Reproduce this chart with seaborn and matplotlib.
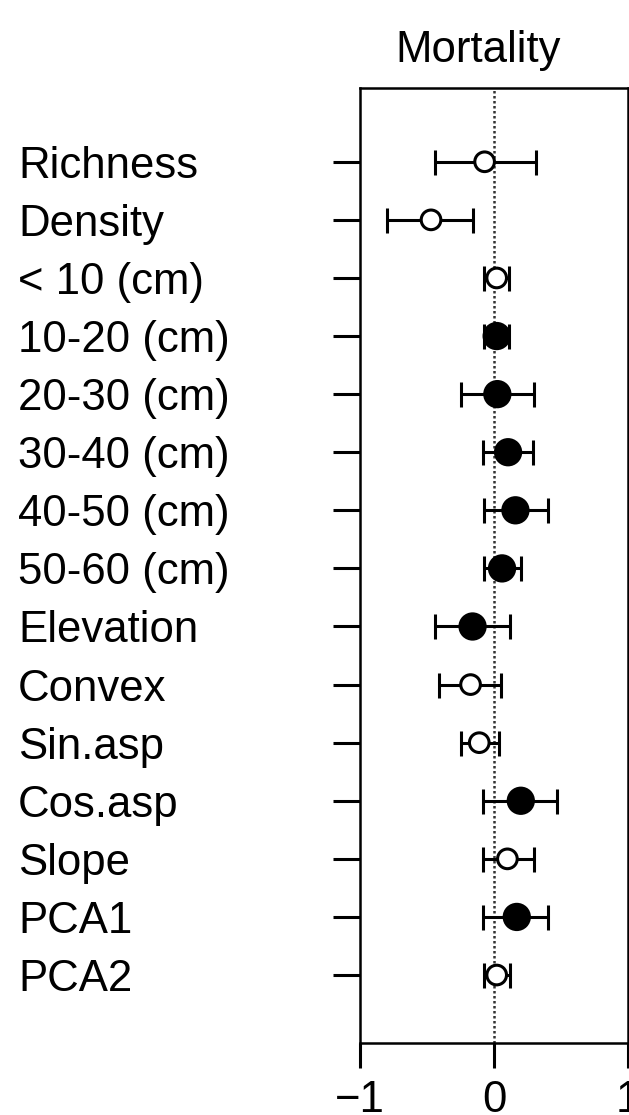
"""
Forest plot of standardised effects on mortality (point estimate + interval).
Open circles = non-significant, filled = significant.
"""

import numpy as np
import pandas as pd
import matplotlib
matplotlib.use("Agg")
import matplotlib.pyplot as plt
import seaborn as sns

# ---------------------------------------------------------------------------
# Data
# ---------------------------------------------------------------------------
LABELS = [
    "Richness", "Density",
    "< 10 (cm)", "10-20 (cm)", "20-30 (cm)", "30-40 (cm)", "40-50 (cm)", "50-60 (cm)",
    "Elevation", "Convex", "Sin.asp", "Cos.asp", "Slope", "PCA1", "PCA2",
]
ESTIMATE = [-0.07, -0.47, 0.02, 0.02, 0.025, 0.105, 0.16, 0.06,
            -0.16, -0.175, -0.11, 0.20, 0.10, 0.17, 0.02]
LOWER    = [-0.44, -0.80, -0.075, -0.075, -0.25, -0.08, -0.075, -0.075,
            -0.44, -0.41, -0.25, -0.08, -0.08, -0.08, -0.075]
UPPER    = [0.31, -0.155, 0.11, 0.11, 0.30, 0.29, 0.40, 0.20,
            0.12, 0.055, 0.037, 0.47, 0.30, 0.40, 0.12]
SIGNIF   = [False, False, False, True, True, True, True, True,
            True, False, False, True, False, True, False]
X_TICKS  = [-1, 0, 1]
TITLE    = "Mortality"

# ---------------------------------------------------------------------------
# Style
# ---------------------------------------------------------------------------
sns.set_theme(style="ticks")
plt.rcParams["font.family"] = ["Liberation Sans", "DejaVu Sans"]
plt.rcParams["text.color"] = "black"
plt.rcParams["axes.edgecolor"] = "black"
plt.rcParams["axes.linewidth"] = 1.8

FS = 31.5
LW = 2.2

df = pd.DataFrame({
    "label": LABELS,
    "est": ESTIMATE,
    "lo": LOWER,
    "hi": UPPER,
    "sig": np.where(SIGNIF, "filled", "open"),
})
n = len(df)
df["pos"] = np.arange(n)[::-1]          # first row at the top

# ---------------------------------------------------------------------------
# Figure
# ---------------------------------------------------------------------------
W, H = 629, 1115
fig = plt.figure(figsize=(W / 100, H / 100), dpi=100)
ax = fig.add_axes([360 / W, 72 / H, 268 / W, 955 / H])

ax.axvline(0, color="#333333", ls=(0, (1, 1.0)), lw=1.8, zorder=1)

ax.errorbar(
    df["est"], df["pos"],
    xerr=[df["est"] - df["lo"], df["hi"] - df["est"]],
    fmt="none", ecolor="black", elinewidth=LW, capsize=9, capthick=LW,
    zorder=2,
)

sns.scatterplot(
    data=df, x="est", y="pos", hue="sig", size="sig",
    palette={"filled": "black", "open": "white"},
    sizes={"filled": 330, "open": 200},
    edgecolor="black", linewidth=LW, legend=False, ax=ax, zorder=3,
)

ax.set_xlim(-1, 1)
ax.set_ylim(-1.17, n - 1 + 1.27)
ax.set_xlabel("")
ax.set_ylabel("")

ax.set_xticks(X_TICKS)
ax.set_xticklabels([str(t).replace("-", "\u2212") for t in X_TICKS], fontsize=FS)
ax.tick_params(axis="x", length=18, width=LW, pad=9, colors="black")

ax.set_yticks(df["pos"])
ax.set_yticklabels(df["label"], fontsize=FS)
ax.tick_params(axis="y", length=19.5, width=LW, pad=(333 - 18) * 0.72, colors="black")
for lab in ax.get_yticklabels():
    lab.set_horizontalalignment("left")

for side in ["top", "right", "left", "bottom"]:
    ax.spines[side].set_visible(True)
    ax.spines[side].set_color("black")

fig.text(478 / W, 1 - 62 / H, TITLE, fontsize=FS, ha="center", va="baseline",
         color="black")

fig.savefig("out.png", dpi=100)
plt.close(fig)
